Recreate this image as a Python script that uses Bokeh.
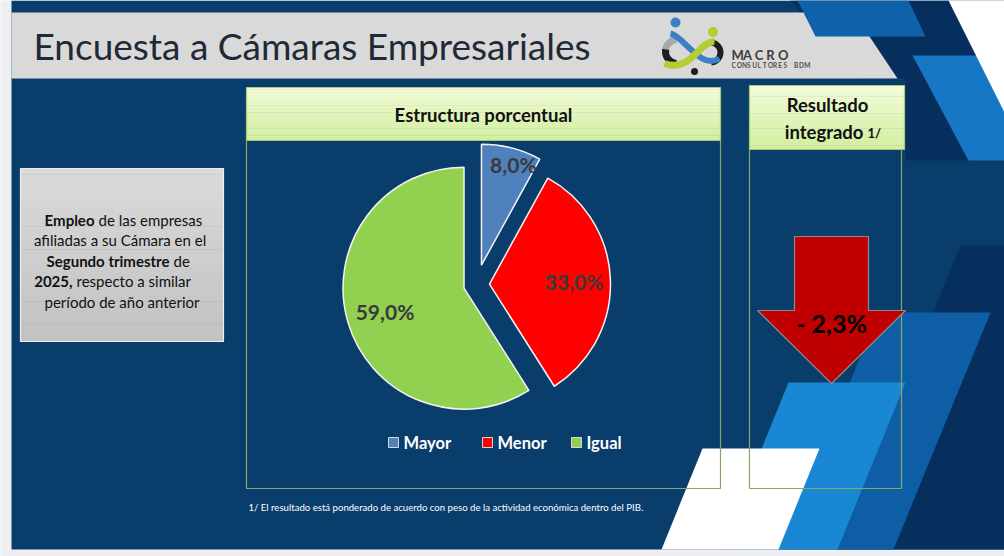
import math
from bokeh.plotting import figure
from bokeh.models import Range1d
from bokeh.core.properties import value
from bokeh.embed import file_html
from bokeh.resources import INLINE

W, H = 1004, 556
FONT = "Lato"

# ---- data ----
categories = ["Mayor", "Menor", "Igual"]
shares = [8.0, 33.0, 59.0]
slice_colors = ["#4f81bd", "#ff0000", "#92d050"]
integrated_result = -2.3

title_text = "Encuesta a Cámaras Empresariales"
panel_title = "Estructura porcentual"
result_title = "Resultado"
result_sub = "integrado"
result_note = "1/"
footnote = ("1/ El resultado está ponderado de acuerdo con peso de la "
            "actividad económica dentro del PIB.")
desc_lines = [
    ("Empleo", "de las empresas"),
    ("", "afiliadas a su Cámara  en el"),
    ("Segundo trimestre", "de"),
    ("2025,", "respecto a similar"),
    ("", "período de año anterior"),
]
brand = "MACRO"
brand_sub = "CONSULTORES BDM"


def fmt_pct(v):
    return f"{v:.1f}".replace(".", ",") + "%"


def yy(v):
    # layout positions are given from the top edge
    return H - v


p = figure(width=W, height=H, x_range=Range1d(0, W), y_range=Range1d(0, H),
           output_backend="svg", toolbar_location=None, min_border=0)
p.axis.visible = False
p.grid.visible = False
p.outline_line_color = None
p.background_fill_color = "#eeeef3"
p.border_fill_color = "#eeeef3"


def poly(pts, color, alpha=1.0, line=None, lw=1.0):
    p.patch([a for a, b in pts], [yy(b) for a, b in pts], fill_color=color,
            fill_alpha=alpha, line_color=line, line_width=lw)


def label(x, y, s, size, color="#000000", bold=False, align="left",
          baseline="middle"):
    p.text(x=[x], y=[yy(y)], text=[s], text_font=value(FONT),
           text_font_size=f"{size}px",
           text_font_style="bold" if bold else "normal",
           text_color=color, text_align=align, text_baseline=baseline)


def mix(c1, c2, t):
    a = [int(c1[i:i + 2], 16) for i in (1, 3, 5)]
    b = [int(c2[i:i + 2], 16) for i in (1, 3, 5)]
    return "#" + "".join(f"{round(a[k] + (b[k] - a[k]) * t):02x}" for k in range(3))


def vgrad(x0, x1, y0, y1, ctop, cbot, n=30):
    step = (y1 - y0) / n
    lefts, rights, tops, bottoms, cols = [], [], [], [], []
    for i in range(n):
        lefts.append(x0)
        rights.append(x1)
        tops.append(yy(y0 + i * step))
        bottoms.append(yy(y0 + (i + 1) * step + 0.6))
        cols.append(mix(ctop, cbot, i / (n - 1)))
    p.quad(left=lefts, right=rights, top=tops, bottom=bottoms,
           fill_color=cols, line_color=None)


def rect_outline(x0, x1, y0, y1, color, lw=1.0):
    p.patch([x0, x1, x1, x0], [yy(y0), yy(y0), yy(y1), yy(y1)],
            fill_color=None, line_color=color, line_width=lw)


# ---- slide background and decorative bands ----
p.quad(left=11, right=W, top=yy(0), bottom=yy(549), fill_color="#093e6c",
       line_color=None)
poly([(790, 0), (948, 0), (1004, 112), (1004, 160), (905, 160),
      (905, 78), (860, 78)], "#062f5d")
poly([(912, 55), (985, 55), (1004, 95), (1004, 160), (968, 160)], "#1877c4")
poly([(948, 0), (1004, 0), (1004, 112)], "#ffffff")
poly([(11, 12), (853, 12), (897, 78), (11, 78)], "#d9d9d9")
poly([(797, 0), (908, 0), (925, 36), (815, 36)], "#0f62a9")

poly([(960, 245), (1004, 245), (1004, 549), (835, 549)], "#062f5d")
poly([(878, 312), (990, 312), (893, 549), (781, 549)], "#0e5ea6")
poly([(788, 382), (905, 382), (837, 549), (720, 549)], "#1a87d4")
poly([(702, 448), (819, 448), (778, 549), (661, 549)], "#ffffff")

# ---- title ----
label(33, 45, title_text, 37, color="#1f2a36")

# ---- logo ----
p.arc(x=677, y=yy(51), radius=12, start_angle=math.radians(95),
      end_angle=math.radians(175), line_width=7, line_color="#a8a8a8")
p.arc(x=677, y=yy(51), radius=12, start_angle=math.radians(170),
      end_angle=math.radians(265), line_width=7, line_color="#1e1e1e")
p.arc(x=710, y=yy(52), radius=10, start_angle=math.radians(-85),
      end_angle=math.radians(85), line_width=6, line_color="#1e1e1e")
p.bezier(x0=670, y0=yy(33), x1=719, y1=yy(58), cx0=684, cy0=yy(36),
         cx1=700, cy1=yy(70), line_width=6, line_color="#3c7fc4")
p.bezier(x0=714, y0=yy(41), x1=664, y1=yy(63), cx0=699, cy0=yy(40),
         cx1=690, cy1=yy(73), line_width=7, line_color="#b4cd33")
p.scatter(x=[675, 712.5, 694], y=[yy(22), yy(31.5), yy(71)], size=[10, 10, 7],
          fill_color=["#3c7fc4", "#b4cd33", "#1e1e1e"], line_color=None)
for i, ch in enumerate(brand):
    label(731 + i * 11.6, 54, ch, 13, color="#3d3d3d", bold=True)
for i, ch in enumerate(brand_sub):
    label(731 + i * 5.2, 65, ch, 6.5, color="#505050", bold=True)

# ---- description box ----
vgrad(20, 223, 168, 341, "#dadada", "#c2c2c2")
rect_outline(20, 223, 168, 341, "#eeeeee", 1.2)
split_x = [94, None, 169, 72, None]
line_y = [219, 239.5, 260, 280.5, 301]
for (bold_part, plain_part), sx, ly in zip(desc_lines, split_x, line_y):
    if sx is None:
        label(121.5, ly, plain_part, 15, color="#111111", align="center")
    else:
        label(sx, ly, bold_part, 15, color="#111111", bold=True, align="right")
        label(sx + 4, ly, plain_part, 15, color="#111111")

# ---- pie panel ----
vgrad(246, 720, 87, 140, "#f1fbd9", "#d3eea0")
rect_outline(246, 720, 87, 140, "#a9c872", 1.2)
p.line([246, 246, 720, 720], [yy(140), yy(488), yy(488), yy(140)],
       line_color="#87a865", line_width=1.2)
label(483, 114, panel_title, 18.5, color="#111111", bold=True, align="center")

center = (476, 284)
radius = 121
explode = [20, 13, 13]
label_frac = [0.86, 0.70, 0.68]
total = sum(shares)
cum = 0.0
for cat, v, col, e, lf in zip(categories, shares, slice_colors, explode, label_frac):
    t1 = cum / total * 360.0
    t2 = (cum + v) / total * 360.0
    mid = math.radians((t1 + t2) / 2.0)
    dx, dy = math.sin(mid), math.cos(mid)
    cx = center[0] + e * dx
    cy = yy(center[1]) + e * dy
    p.wedge(x=cx, y=cy, radius=radius, start_angle=math.radians(90 - t2),
            end_angle=math.radians(90 - t1), fill_color=col,
            line_color="#f4f4f4", line_width=1.5)
    p.text(x=[cx + lf * radius * dx + (6 if v < 10 else 0)],
           y=[cy + lf * radius * dy],
           text=[fmt_pct(v)], text_font=value(FONT), text_font_size="21px",
           text_font_style="bold", text_color="#3a3a3a", text_align="center",
           text_baseline="middle")
    cum += v

# legend
legend_x = [388, 482, 571]
for cat, col, lx in zip(categories, slice_colors, legend_x):
    p.quad(left=lx, right=lx + 10, top=yy(437), bottom=yy(447),
           fill_color=col, line_color="#d8d8d8", line_width=1)
    label(lx + 15, 442, cat, 16.5, color="#ffffff", bold=True)

label(248, 507, footnote, 9.6, color="#ffffff")

# ---- integrated result panel ----
vgrad(749, 904, 85, 149, "#f1fbd9", "#d3eea0")
rect_outline(749, 904, 85, 149, "#a9c872", 1.2)
p.line([749, 749], [yy(149), yy(488)], line_color="#87a865", line_width=1.2)
p.line([901, 901], [yy(149), yy(488)], line_color="#87a865", line_width=1.2)
p.line([749, 901], [yy(488), yy(488)], line_color="#87a865", line_width=1.2)
label(827, 104, result_title, 18.5, color="#111111", bold=True, align="center")
label(863, 131, result_sub, 18.5, color="#111111", bold=True, align="right")
label(867, 132, result_note, 13, color="#111111", bold=True)

# arrow: direction follows the sign of the result
sign = -1 if integrated_result < 0 else 1
base_y, head_y, tip_y = (236, 310, 383) if sign < 0 else (383, 309, 236)
arrow = [(794, base_y), (868, base_y), (868, head_y), (905, head_y),
         (831, tip_y), (757, head_y), (794, head_y)]
poly(arrow, "#c00000", line="#8a8a8a", lw=1.2)
result_txt = ("- " if sign < 0 else "+ ") + fmt_pct(abs(integrated_result))
label(831, 322, result_txt, 25, color="#000000", bold=True, align="center")

open("out.html", "w").write(file_html(p, INLINE))
